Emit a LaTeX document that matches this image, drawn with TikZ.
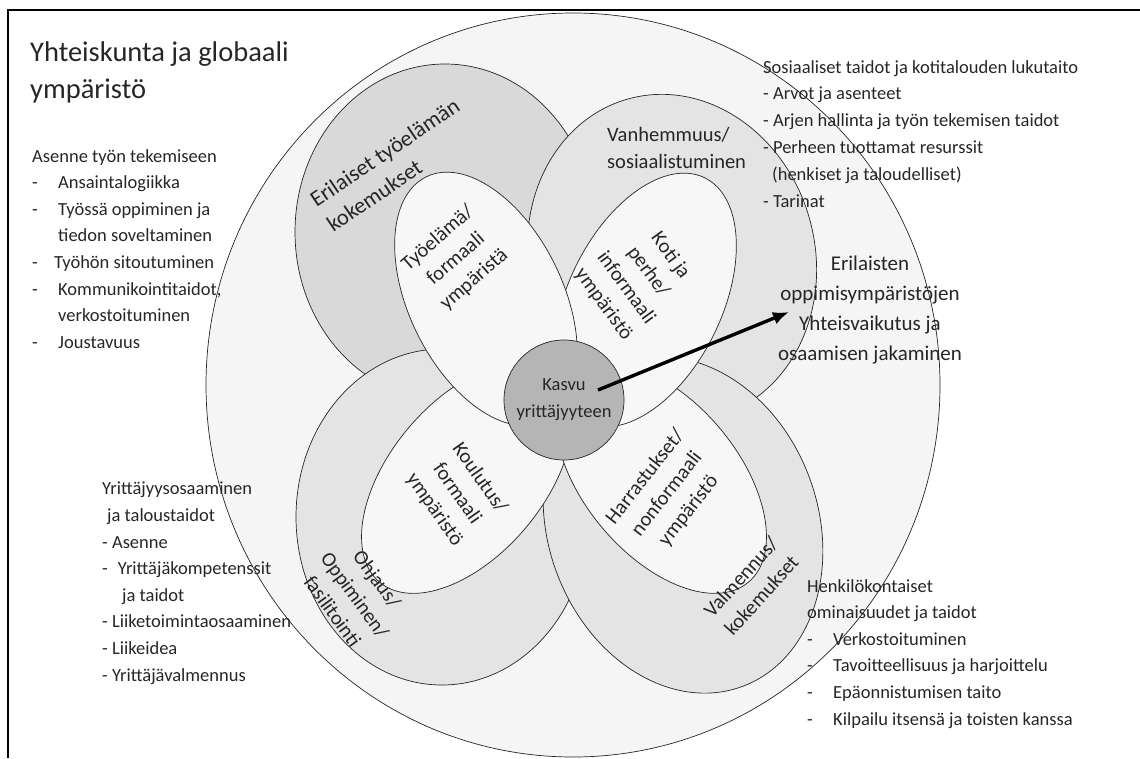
\documentclass[tikz,border=0pt]{standalone}
\usepackage{fontspec}
\setmainfont{Carlito}
\usetikzlibrary{arrows.meta}
\definecolor{ringgray}{gray}{0.962}
\definecolor{innergray}{gray}{0.968}
\definecolor{darkpetal}{gray}{0.85}
\definecolor{lightpetal}{gray}{0.895}
\definecolor{coregray}{gray}{0.71}
\definecolor{inkgray}{gray}{0.15}
\begin{document}
\begin{tikzpicture}[x=1pt,y=-1pt,
    outline/.style={draw=inkgray,line width=0.7pt},
    listtext/.style={inner sep=0pt,align=left,anchor=north west,text=inkgray,font=\fontsize{18.5}{26.6}\selectfont},
    petaltext/.style={inner sep=0pt,align=center,text=inkgray,font=\fontsize{20.5}{27.5}\selectfont},
    core/.style={circle,outline,fill=coregray,minimum size=120pt,inner sep=0pt,align=center,text=inkgray,font=\fontsize{18.5}{27}\selectfont}]
    \useasboundingbox (0,0) rectangle (1140,758);
    % frame
    \draw[line width=1.8pt] (8,758) -- (8,10) -- (1140,10);
    % ring
    \draw[outline,fill=ringgray] (573,385) ellipse[x radius=367,y radius=372];
    % outer petals
    \draw[outline,fill=darkpetal] (445,232) ellipse[x radius=150,y radius=168];
    \draw[outline,fill=lightpetal,rotate around={15:(672,258)}] (672,258) ellipse[x radius=143,y radius=165];
    \draw[outline,fill=lightpetal] (442,517) ellipse[x radius=146,y radius=168];
    \draw[outline,fill=lightpetal,rotate around={20:(683,525)}] (683,525) ellipse[x radius=135,y radius=172];
    % inner petals
    \draw[outline,fill=innergray,rotate around={50:(467,478)}] (467,478) ellipse[x radius=136,y radius=77];
    \draw[outline,fill=innergray,rotate around={-50:(661,478)}] (661,478) ellipse[x radius=136,y radius=77];
    \draw[outline,fill=innergray,rotate around={64:(645,300)}] (645,300) ellipse[x radius=136,y radius=77];
    \draw[outline,fill=innergray,rotate around={-64:(486,299)}] (486,299) ellipse[x radius=136,y radius=77];
    % centre
    \node[core] (growth) at (564,400) {Kasvu\\yrittäjyyteen};
    \coordinate (arrowstart) at (598,390);
    \coordinate (arrowtip) at (789,312);
    \draw[line width=3.4pt,-{Latex[length=16pt,width=13pt]}] (arrowstart) -- (arrowtip);
    % petal labels
    \node[petaltext,rotate=34,align=left,font=\fontsize{22.5}{30}\selectfont] (worklife) at (393,165) {Erilaiset työelämän\\kokemukset};
    \node[petaltext,anchor=north west,align=left] (parenting) at (607,127) {Vanhemmuus/\\sosiaalistuminen};
    \node[petaltext,rotate=41] (workenv) at (456,259) {Työelämä/\\formaali\\ympäristä};
    \node[petaltext,rotate=-54] (homeenv) at (637,280) {Koti ja\\perhe/\\informaali\\ympäristö};
    \node[petaltext,rotate=-55] (schoolenv) at (457,494) {Koulutus/\\formaali\\ympäristö};
    \node[petaltext,rotate=52] (hobbyenv) at (667,494) {Harrastukset/\\nonformaali\\ympäristö};
    \node[petaltext,rotate=48] (coaching) at (751,586) {Valmennus/\\kokemukset};
    \node[petaltext,rotate=-54] (guidance) at (355,595) {Ohjaus/\\Oppiminen/\\fasilitointi};
    % texts around
    \node[listtext,font=\fontsize{28.5}{37}\selectfont] (title) at (30,42) {Yhteiskunta ja globaali\\ympäristö};
    \node[listtext] (worklist) at (32,149) {Asenne työn tekemiseen\\
        \makebox[26pt][l]{-}Ansaintalogiikka\\
        \makebox[26pt][l]{-}Työssä oppiminen ja\\
        \hspace*{26pt}tiedon soveltaminen\\
        \makebox[22pt][l]{-}Työhön sitoutuminen\\
        \makebox[26pt][l]{-}Kommunikointitaidot,\\
        \hspace*{26pt}verkostoituminen\\
        \makebox[26pt][l]{-}Joustavuus};
    \node[listtext,font=\fontsize{18.5}{26.8}\selectfont] (homelist) at (763,60) {Sosiaaliset taidot ja kotitalouden lukutaito\\
        - Arvot ja asenteet\\
        - Arjen hallinta ja työn tekemisen taidot\\
        - Perheen tuottamat resurssit\\
        \hspace*{9pt}(henkiset ja taloudelliset)\\
        - Tarinat};
    \node[listtext,align=center,anchor=north,font=\fontsize{21}{30}\selectfont] (sharing) at (870,256) {Erilaisten\\oppimisympäristöjen\\Yhteisvaikutus ja\\osaamisen jakaminen};
    \node[listtext] (skilllist) at (102,482) {Yrittäjyysosaaminen\\
        \hspace*{5pt}ja taloustaidot\\
        - Asenne\\
        -\hspace*{10pt}Yrittäjäkompetenssit\\
        \hspace*{20pt}ja taidot\\
        - Liiketoimintaosaaminen\\
        - Liikeidea\\
        - Yrittäjävalmennus};
    \node[listtext] (personlist) at (807,579) {Henkilökontaiset\\
        ominaisuudet ja taidot\\
        \makebox[26pt][l]{-}Verkostoituminen\\
        \makebox[26pt][l]{-}Tavoitteellisuus ja harjoittelu\\
        \makebox[26pt][l]{-}Epäonnistumisen taito\\
        \makebox[26pt][l]{-}Kilpailu itsensä ja toisten kanssa};
\end{tikzpicture}
\end{document}
